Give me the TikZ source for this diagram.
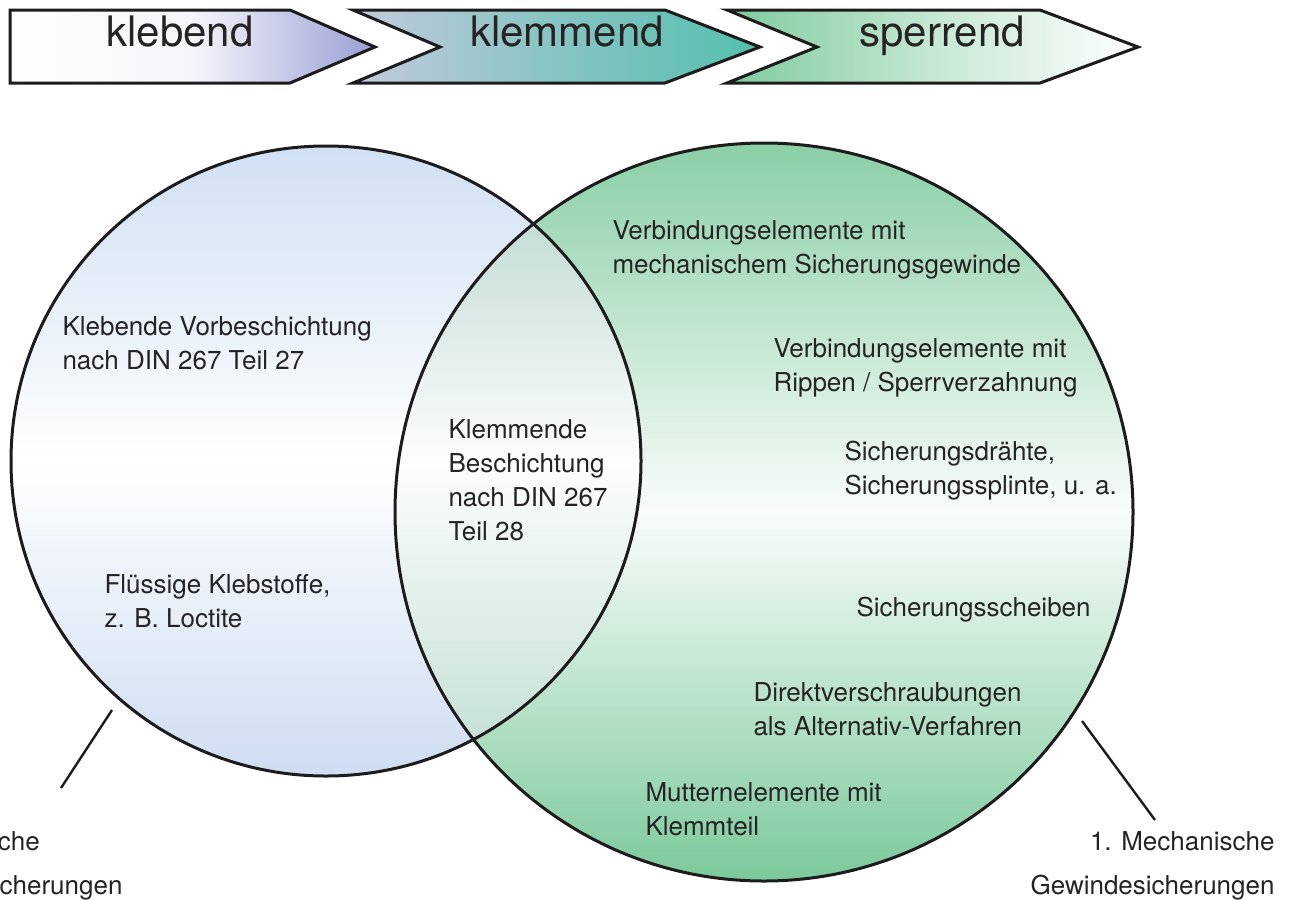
\documentclass[tikz,border=0pt]{standalone}
\usepackage{fontspec}
\setmainfont{TeX Gyre Heros}
\usepackage{xcolor}

\definecolor{textgrey}{HTML}{262324}
\definecolor{outline}{HTML}{1E1B1C}
\definecolor{klebtop}{HTML}{D0E0F3}
\definecolor{klebbot}{HTML}{CEDDF2}
\definecolor{sperrtop}{HTML}{8ACFA6}
\definecolor{sperrbot}{HTML}{7BC99B}
\definecolor{lenstop}{HTML}{B2D2CB}
\definecolor{lensbot}{HTML}{BFDED0}
\definecolor{lila}{HTML}{9A9FD5}
\definecolor{greyblue}{HTML}{C3CADC}
\definecolor{teal}{HTML}{55BFAE}
\definecolor{mint}{HTML}{7FCB9D}

\begin{document}
\begin{tikzpicture}[
  x=0.5pt, y=-0.5pt, line width=1.5pt,
  txt/.style={anchor=west,align=left,inner sep=0pt,text=textgrey,font=\fontsize{13}{17}\selectfont},
  lbl/.style={inner sep=0pt,text=textgrey,font=\fontsize{13}{22}\selectfont},
  head/.style={anchor=base,inner sep=0pt,text=textgrey,font=\fontsize{21}{25}\selectfont},
  stage/.style={draw=outline,line width=1.5pt}
]
  \useasboundingbox (0,0) rectangle (1294,900);
  \clip (0,0) rectangle (1294,900);

  % stage arrows
  \path[stage,left color=white,right color=lila,middle color=white!90!lila]
    (10,10) -- (290,10) -- (375,47) -- (290,83) -- (10,83) -- cycle;
  \path[stage,left color=greyblue,right color=teal,middle color=teal!55!greyblue]
    (353,10) -- (665,10) -- (760,47) -- (665,83) -- (353,83) -- (440,47) -- cycle;
  \path[stage,left color=mint,right color=white,middle color=mint!45!white]
    (727,10) -- (1040,10) -- (1138,47) -- (1040,83) -- (727,83) -- (817,47) -- cycle;
  \node[head] (kleb)   at (180,46) {klebend};
  \node[head] (klemm)  at (567,46) {klemmend};
  \node[head] (sperr)  at (942,46) {sperrend};

  % circles
  \fill[top color=klebtop,bottom color=klebbot,middle color=white] (326,461) circle [radius=157.5pt];
  \fill[top color=sperrtop,bottom color=sperrbot,middle color=white!95!sperrtop] (764,512) circle [radius=184.5pt];
  \begin{scope}
    \clip (764,512) circle [radius=184.5pt];
    \fill[top color=lenstop,bottom color=lensbot,middle color=white!97!lenstop] (326,461) circle [radius=157.5pt];
  \end{scope}
  \draw[outline] (326,461) circle [radius=157.5pt];
  \draw[outline] (764,512) circle [radius=184.5pt];

  % texts
  \node[txt] (vbsg)  at (611,250) {Verbindungselemente mit\\mechanischem Sicherungsgewinde};
  \node[txt] (klvb)  at (61,343)  {Klebende Vorbeschichtung\\nach DIN 267 Teil 27};
  \node[txt] (vbrs)  at (772,368) {Verbindungselemente mit\\Rippen / Sperrverzahnung};
  \node[txt] (klbs)  at (447,480) {Klemmende\\Beschichtung\\nach DIN 267\\Teil 28};
  \node[txt] (sdss)  at (843,471) {Sicherungsdrähte,\\Sicherungssplinte, u. a.};
  \node[txt] (flks)  at (103,601) {Flüssige Klebstoffe,\\z. B. Loctite};
  \node[txt] (ssch)  at (855,610) {Sicherungsscheiben};
  \node[txt] (dvav)  at (752,709) {Direktverschraubungen\\als Alternativ-Verfahren};
  \node[txt] (mekt)  at (644,809) {Mutternelemente mit\\Klemmteil};

  % labels
  \node[lbl,anchor=east,align=right] (mech) at (1276,866) {1. Mechanische\\Gewindesicherungen};
  \node[lbl,anchor=west,align=left]  (chem) at (-123,866) {2. Chemische\\Gewindesicherungen};
  \coordinate (mechA) at (1082,721);
  \coordinate (mechB) at (1155,820);
  \coordinate (chemA) at (112,710);
  \coordinate (chemB) at (61,788);
  \draw[outline,line width=1.2pt] (mechA) -- (mechB);
  \draw[outline,line width=1.2pt] (chemA) -- (chemB);
\end{tikzpicture}
\end{document}
